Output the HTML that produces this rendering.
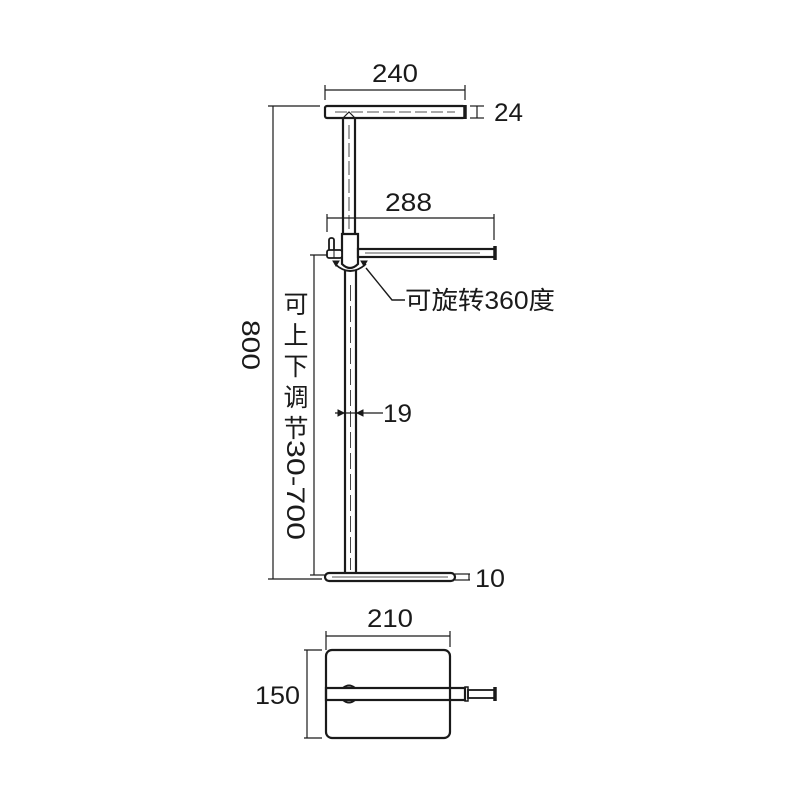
<!DOCTYPE html>
<html><head><meta charset="utf-8"><style>
html,body{margin:0;padding:0;background:#fff}
svg text{font-family:"Liberation Sans","Noto Sans CJK SC",sans-serif;fill:#1a1a1a}
</style></head><body>
<svg width="800" height="800" viewBox="0 0 800 800" xmlns="http://www.w3.org/2000/svg">
<g stroke="#1a1a1a" fill="none">
<rect x="325" y="106" width="140" height="12" rx="2" stroke-width="2.2" fill="#fff"/>
<line x1="335" y1="112" x2="455" y2="112" stroke-width="0.8" stroke-dasharray="12,4"/>
<line x1="465" y1="105" x2="465" y2="119" stroke-width="3.5"/>
<line x1="343" y1="117" x2="343" y2="233" stroke-width="2.2"/>
<line x1="355" y1="117" x2="355" y2="233" stroke-width="2.2"/>
<line x1="349" y1="125" x2="349" y2="232" stroke-width="0.8" stroke-dasharray="14,4"/>
<path d="M343 118 L349 112 L355 118" stroke-width="1.2"/>
<path d="M342 234 H358 V264 Q350 272 342 264 Z" stroke-width="2.2" fill="#fff"/>
<path d="M335 264 Q350 278 366 264" stroke-width="1.8"/>
<path d="M333 261 l6 0 l-3 5z M367 261 l-6 0 l3 5z" fill="#1a1a1a" stroke-width="1"/>
<rect x="329" y="238" width="5" height="13" rx="2" stroke-width="1.8" fill="#fff"/>
<rect x="327" y="250" width="15" height="8" rx="2" stroke-width="1.8" fill="#fff"/>
<line x1="334" y1="250" x2="334" y2="258" stroke-width="1"/>
<rect x="358" y="249" width="137" height="8" stroke-width="2.2" fill="#fff"/>
<line x1="365" y1="253" x2="480" y2="253" stroke-width="0.8"/>
<line x1="495" y1="246" x2="495" y2="260" stroke-width="3.5"/>
<line x1="345" y1="270" x2="345" y2="573" stroke-width="2.2"/>
<line x1="356" y1="270" x2="356" y2="573" stroke-width="2.2"/>
<line x1="350.5" y1="285" x2="350.5" y2="570" stroke-width="0.8" stroke-dasharray="16,5"/>
<rect x="325" y="573" width="130" height="8" rx="4" stroke-width="2.2" fill="#fff"/>
<line x1="332" y1="577" x2="448" y2="577" stroke-width="0.8"/>
<line x1="325" y1="90" x2="465" y2="90" stroke-width="1.2"/>
<line x1="325" y1="85" x2="325" y2="100" stroke-width="1.2"/>
<line x1="465" y1="85" x2="465" y2="100" stroke-width="1.2"/>
<line x1="470" y1="106" x2="484" y2="106" stroke-width="1.2"/>
<line x1="470" y1="118" x2="484" y2="118" stroke-width="1.2"/>
<line x1="477" y1="106" x2="477" y2="118" stroke-width="1.2"/>
<line x1="327" y1="218" x2="494" y2="218" stroke-width="1.2"/>
<line x1="327" y1="214" x2="327" y2="232" stroke-width="1.2"/>
<line x1="494" y1="214" x2="494" y2="240" stroke-width="1.2"/>
<line x1="273" y1="106" x2="273" y2="579" stroke-width="1.2"/>
<line x1="268" y1="106" x2="320" y2="106" stroke-width="1.2"/>
<line x1="268" y1="579" x2="322" y2="579" stroke-width="1.2"/>
<line x1="314" y1="255" x2="314" y2="575" stroke-width="1.2"/>
<line x1="310" y1="255" x2="327" y2="255" stroke-width="1.2"/>
<line x1="310" y1="575" x2="325" y2="575" stroke-width="1.2"/>
<line x1="335" y1="413" x2="383" y2="413" stroke-width="1.2"/>
<path d="M338 410 l6 3 l-6 3z M363 410 l-6 3 l6 3z" fill="#1a1a1a" stroke-width="1"/>
<line x1="455" y1="574" x2="470" y2="574" stroke-width="1.2"/>
<line x1="455" y1="580" x2="470" y2="580" stroke-width="1.2"/>
<line x1="469" y1="574" x2="469" y2="580" stroke-width="1.2"/>
<polyline points="366,268 392,300 405,300" stroke-width="1.4"/>
<rect x="326" y="650" width="124" height="88" rx="6" stroke-width="2.2" fill="#fff"/>
<line x1="326" y1="636" x2="450" y2="636" stroke-width="1.2"/>
<line x1="326" y1="631" x2="326" y2="650" stroke-width="1.2"/>
<line x1="450" y1="631" x2="450" y2="647" stroke-width="1.2"/>
<line x1="307" y1="650" x2="307" y2="738" stroke-width="1.2"/>
<line x1="304" y1="650" x2="322" y2="650" stroke-width="1.2"/>
<line x1="304" y1="738" x2="322" y2="738" stroke-width="1.2"/>
<path d="M343 688 Q349 683 355 688 M343 700 Q349 705 355 700" stroke-width="2"/>
<rect x="326" y="688" width="139" height="12" stroke-width="2.2" fill="none"/>
<rect x="465" y="687" width="3" height="14" stroke-width="1.5"/>
<rect x="468" y="690" width="27" height="8" stroke-width="1.8"/>
<line x1="495" y1="687" x2="495" y2="701" stroke-width="3.5"/>
</g>
<g font-size="25">
<text x="372" y="82" textLength="46" lengthAdjust="spacingAndGlyphs">240</text>
<text x="494" y="121" textLength="29" lengthAdjust="spacingAndGlyphs">24</text>
<text x="385" y="211" textLength="47" lengthAdjust="spacingAndGlyphs">288</text>
<text x="383" y="422" textLength="29" lengthAdjust="spacingAndGlyphs">19</text>
<text x="475" y="587" textLength="30" lengthAdjust="spacingAndGlyphs">10</text>
<text x="367" y="627" textLength="46" lengthAdjust="spacingAndGlyphs">210</text>
<text x="255" y="704" textLength="45" lengthAdjust="spacingAndGlyphs">150</text>
<text x="405" y="309" textLength="150" lengthAdjust="spacingAndGlyphs">可旋转360度</text>
<text transform="translate(242,320) rotate(90)" textLength="50" lengthAdjust="spacingAndGlyphs">800</text>
<text x="296" y="313" text-anchor="middle">可</text>
<text x="296" y="344" text-anchor="middle">上</text>
<text x="296" y="375" text-anchor="middle">下</text>
<text x="296" y="406" text-anchor="middle">调</text>
<text x="296" y="437" text-anchor="middle">节</text>
<text transform="translate(287,440) rotate(90)" textLength="100" lengthAdjust="spacingAndGlyphs">30-700</text>
</g>
</svg>
</body></html>
